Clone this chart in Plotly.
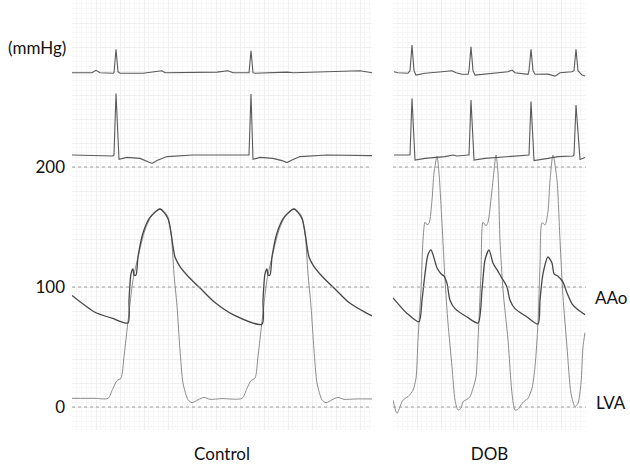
import plotly.graph_objects as go

# time in ms, pressure in mmHg, ECG in mV

# ---- Control ----
ctrl_aao_t = [0, 115, 200, 280, 285, 295, 305, 310, 320, 330, 355, 390, 440, 480, 515, 540, 580, 650, 715, 805,
              950, 955, 965, 975, 980, 990, 1000, 1025, 1060, 1110, 1150, 1185, 1210, 1250, 1320, 1385, 1475, 1500]
ctrl_aao_p = [93, 79, 74, 70, 89, 111, 115, 110, 110, 125, 145, 158, 165, 157, 125, 117, 109, 97.5, 87, 77,
              69, 89, 111, 115, 110, 110, 125, 145, 158, 165, 157, 125, 117, 109, 97.5, 87, 78, 76]

ctrl_lv_t = [0, 115, 180, 205, 225, 245, 260, 275, 290, 305, 330, 365, 400, 440, 475, 495, 510, 525, 540, 555,
             580, 600, 630, 660, 690, 750, 850, 875, 895, 915, 930, 945, 960, 975, 1000, 1035, 1070, 1110, 1145,
             1165, 1180, 1195, 1210, 1225, 1250, 1270, 1300, 1330, 1360, 1420, 1500]
ctrl_lv_p = [7.2, 7.2, 7.2, 15.6, 22, 24, 42, 64, 86, 106, 125, 147.5, 160, 165, 160, 145, 111, 84, 47.5, 20,
             6, 3.6, 6, 8, 6.4, 7, 7.2, 15.6, 22, 24, 42, 64, 86, 106, 125, 147.5, 160, 165, 160,
             145, 111, 84, 47.5, 20, 6, 3.6, 6, 8, 6.4, 6.7, 6.7]

ctrl_ecg1_t = [0, 100, 120, 140, 205, 210, 220, 230, 240, 355, 450, 465, 725, 780, 805, 880, 885, 895, 905, 915,
               1075, 1105, 1440, 1500]
ctrl_ecg1_v = [0, 0, 0.12, 0, -0.03, 0, 1.17, 0.05, -0.03, -0.03, 0.1, 0, 0.03, 0.1, 0, -0.03, 0, 1.1, 0, -0.03,
               0.03, 0, 0.1, 0]

ctrl_ecg2_t = [0, 205, 210, 220, 235, 275, 340, 375, 400, 425, 475, 605, 880, 885, 895, 905, 940, 1005, 1050,
               1075, 1100, 1140, 1275, 1500]
ctrl_ecg2_v = [0, -0.05, 0, 3.08, -0.22, -0.12, -0.17, -0.33, -0.42, -0.28, -0.08, 0, 0, 0, 3.05, -0.22, -0.12,
               -0.17, -0.28, -0.38, -0.25, -0.08, 0, -0.03]

# ---- DOB ----
dob_aao_t = [0, 70, 130, 145, 160, 175, 190, 200, 220, 240, 255, 270, 285, 310, 370, 425, 445, 460, 480, 500,
             525, 550, 570, 585, 610, 670, 725, 735, 750, 775, 795, 805, 825, 850, 870, 895, 925, 960]
dob_aao_p = [91, 78, 71, 89, 111, 127, 131, 127, 116, 111, 109, 103, 89, 82, 75, 70, 97.5, 122.5, 131, 120,
             113, 106, 100, 89, 82, 75, 69, 89, 111, 125, 120, 111, 109, 104, 95, 86, 81, 77]

dob_lv_t = [0, 20, 45, 60, 75, 100, 115, 125, 140, 150, 160, 170, 180, 195, 205, 220, 230, 245, 260, 275, 295,
            310, 325, 340, 350, 370, 385, 400, 415, 425, 440, 450, 465, 475, 495, 505, 515, 525, 535, 550, 575,
            595, 610, 625, 645, 660, 675, 695, 710, 725, 735, 745, 760, 775, 785, 800, 820, 835, 850, 870, 890,
            910, 925, 940, 950, 960]
dob_lv_p = [5.8, -5.3, 4.4, 7.2, 8.6, 14, 24, 56, 97.5, 139, 154, 152, 153, 172.5, 195, 209, 195, 153, 106, 70,
            33.6, 5.8, -2.5, -1, 4.4, 6.4, 8.6, 15.6, 25, 56, 111, 154, 151, 154, 181, 197, 210, 195, 139, 97.5,
            56, 11.4, -2.5, -2, 3, 5.3, 7.2, 15.6, 33.6, 70, 117, 153.6, 151.7, 162.8, 189, 210, 189, 139, 92,
            50, 11.4, 0.3, 3, 20, 50, 62]

dob_ecg1_t = [5, 25, 75, 85, 95, 105, 115, 160, 245, 295, 315, 345, 375, 380, 390, 400, 410, 495, 575, 595, 610,
              675, 680, 690, 700, 710, 775, 810, 835, 895, 905, 915, 925, 945, 960]
dob_ecg1_v = [0.05, 0, -0.03, 0.1, 1.38, 0.1, -0.12, -0.03, 0.05, 0.1, 0, -0.08, -0.08, 0.1, 1.3, 0.1, -0.12,
              -0.03, 0.05, 0.13, 0, -0.08, 0.1, 1.17, 0.1, -0.08, -0.07, -0.17, 0, 0.05, 0.1, 1.17, 0.1, -0.12,
              -0.17]

dob_ecg2_t = [5, 75, 85, 95, 110, 160, 260, 300, 320, 375, 380, 390, 405, 460, 595, 675, 680, 690, 705, 775,
              825, 900, 905, 915, 935, 960]
dob_ecg2_v = [0, 0, 0, 2.83, -0.25, -0.17, -0.08, 0, -0.05, 0, 0, 2.75, -0.25, -0.17, -0.05, 0, 0, 2.67, -0.28,
              -0.17, -0.08, -0.05, 0, 2.5, -0.22, -0.12]

ref_levels = [0, 100, 200]
ytick_vals = list(range(-20, 341, 20))
ytick_text = [str(v) if v in ref_levels else "" for v in ytick_vals]

# plot geometry (px) used to place the ECG strips over the pressure scale
plot_h = 430
px_per_mmhg = 1.2
zero_px = 407
px_per_mv = 20
ecg1_base_px = 72.7
ecg2_base_px = 155

p_top = zero_px / px_per_mmhg
p_bot = (zero_px - plot_h) / px_per_mmhg

aao_col = "#474747"
lv_col = "#8c8c8c"
ecg_col = "#5a5a5a"
major_grid = "#efefef"
minor_grid = "#f7f7f7"

fig = go.Figure()


def add(t, v, xa, ya, col, w, shape):
    fig.add_trace(go.Scatter(x=t, y=v, xaxis=xa, yaxis=ya, mode="lines",
                             line=dict(color=col, width=w, shape=shape, smoothing=0.7),
                             showlegend=False, hoverinfo="skip"))


add(ctrl_lv_t, ctrl_lv_p, "x", "y", lv_col, 1, "spline")
add(ctrl_aao_t, ctrl_aao_p, "x", "y", aao_col, 1.3, "spline")
add(dob_lv_t, dob_lv_p, "x2", "y", lv_col, 1, "spline")
add(dob_aao_t, dob_aao_p, "x2", "y", aao_col, 1.3, "spline")
add(ctrl_ecg1_t, ctrl_ecg1_v, "x", "y2", ecg_col, 1.1, "linear")
add(ctrl_ecg2_t, ctrl_ecg2_v, "x", "y3", ecg_col, 1.1, "linear")
add(dob_ecg1_t, dob_ecg1_v, "x2", "y2", ecg_col, 1.1, "linear")
add(dob_ecg2_t, dob_ecg2_v, "x2", "y3", ecg_col, 1.1, "linear")

for xr in ["x domain", "x2 domain"]:
    for lv in ref_levels:
        fig.add_shape(type="line", xref=xr, yref="y", x0=0, x1=1, y0=lv, y1=lv,
                      line=dict(color="#a0a0a0", width=1, dash="3px,3px"), layer="above")

fnt = dict(family="Lato, Open Sans, sans-serif", size=17, color="#111")


def xax(dom, rng, title):
    return dict(domain=dom, range=rng, showticklabels=False, ticks="", anchor="y",
                dtick=120, tick0=0, showgrid=True, gridcolor=major_grid, zeroline=False, showline=False,
                minor=dict(dtick=24, showgrid=True, gridcolor=minor_grid),
                title=dict(text=title, standoff=18, font=fnt), automargin=False)


fig.update_layout(
    width=630, height=470,
    margin=dict(l=72, r=44, t=0, b=40, autoexpand=False),
    paper_bgcolor="white", plot_bgcolor="white",
    font=fnt,
    xaxis=xax([0, 300 / 514], [0, 1500], "Control"),
    xaxis2=xax([321 / 514, 1], [0, 965], "DOB"),
    yaxis=dict(range=[p_bot, p_top], tickmode="array", tickvals=ytick_vals, ticktext=ytick_text,
               ticks="", ticklabelstandoff=6, anchor="x", automargin=False,
               minor=dict(dtick=4, tick0=0, showgrid=True, gridcolor=minor_grid),
               showgrid=True, gridcolor=major_grid, zeroline=False, showline=False),
    yaxis2=dict(overlaying="y", visible=False,
                range=[-(plot_h - ecg1_base_px) / px_per_mv, ecg1_base_px / px_per_mv]),
    yaxis3=dict(overlaying="y", visible=False,
                range=[-(plot_h - ecg2_base_px) / px_per_mv, ecg2_base_px / px_per_mv]),
)

fig.add_annotation(text="(mmHg)", xref="paper", yref="y", x=-4 / 514, y=(zero_px - 47) / px_per_mmhg,
                   xanchor="right", yanchor="middle", showarrow=False, font=fnt)
fig.add_annotation(text="AAo", xref="paper", yref="y", x=557 / 514, y=91,
                   xanchor="right", yanchor="middle", showarrow=False, font=fnt)
fig.add_annotation(text="LVA", xref="paper", yref="y", x=556 / 514, y=4,
                   xanchor="right", yanchor="middle", showarrow=False, font=fnt)

# drop the page's default body margin so the figure sits at the window corner
fig.write_html("out.html", config={"displayModeBar": False},
               post_script="document.body.style.margin='0';")
